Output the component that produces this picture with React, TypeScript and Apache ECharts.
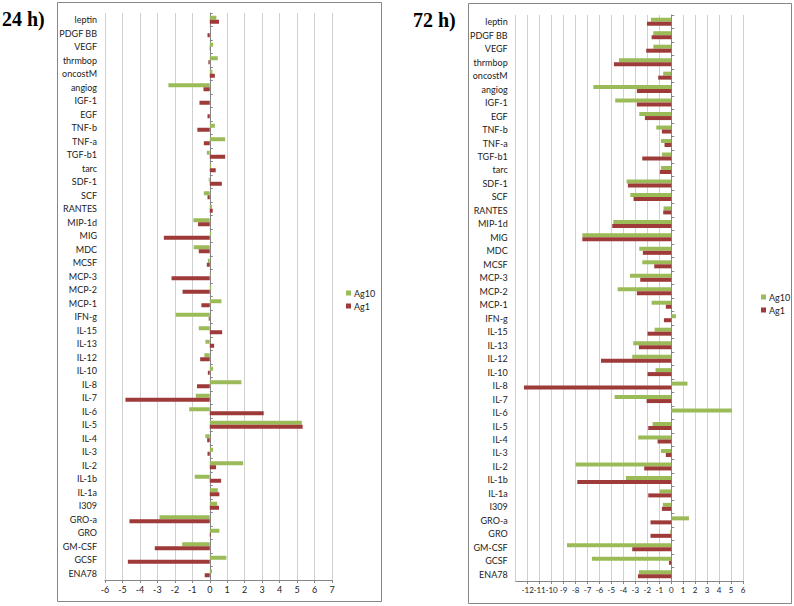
import React, { useEffect, useRef } from "react";
import * as echarts from "echarts";

// categories listed bottom -> top
const categories = [
  "ENA78", "GCSF", "GM-CSF", "GRO", "GRO-a", "I309", "IL-1a", "IL-1b", "IL-2", "IL-3",
  "IL-4", "IL-5", "IL-6", "IL-7", "IL-8", "IL-10", "IL-12", "IL-13", "IL-15", "IFN-g",
  "MCP-1", "MCP-2", "MCP-3", "MCSF", "MDC", "MIG", "MIP-1d", "RANTES", "SCF", "SDF-1",
  "tarc", "TGF-b1", "TNF-a", "TNF-b", "EGF", "IGF-1", "angiog", "oncostM", "thrmbop", "VEGF",
  "PDGF BB", "leptin",
];

const ag10_24h = [
  0.13, 0.95, -1.58, 0.55, -2.88, 0.42, 0.46, -0.86, 1.91, 0.19,
  -0.25, 5.27, -1.18, -0.8, 1.81, 0.19, -0.31, -0.25, -0.63, -1.95,
  0.67, 0.08, 0.03, -0.11, -0.92, 0.08, -0.94, 0.13, -0.34, -0.06,
  0.08, -0.17, 0.88, 0.29, 0.0, 0.0, -2.37, 0.15, 0.46, 0.19,
  0.0, 0.38,
];
const ag1_24h = [
  -0.29, -4.69, -3.15, 0.05, -4.6, 0.53, 0.55, 0.65, 0.36, -0.13,
  -0.15, 5.32, 3.09, -4.83, -0.73, -0.11, -0.55, 0.25, 0.71, -0.06,
  -0.48, -1.56, -2.19, -0.17, -0.63, -2.63, -0.67, 0.17, -0.13, 0.69,
  0.34, 0.88, -0.34, -0.71, -0.13, -0.59, -0.36, 0.29, -0.08, 0.02,
  -0.13, 0.53,
];
const ag10_72h = [
  -2.7, -6.63, -8.71, -0.08, 1.48, -0.7, -0.95, -3.79, -7.99, -0.86,
  -2.76, -1.56, 5.07, -4.73, 1.36, -1.31, -3.26, -3.17, -1.39, 0.39,
  -1.64, -4.48, -3.45, -2.42, -2.67, -7.43, -4.84, -0.64, -3.42, -3.73,
  -0.86, -0.78, -0.86, -1.25, -2.67, -4.68, -6.51, -0.67, -4.37, -1.5,
  -1.5, -1.7,
];
const ag1_72h = [
  -2.78, -0.19, -3.26, -1.73, -1.73, -0.78, -1.92, -7.85, -2.26, -0.45,
  -1.14, -1.92, 0.0, -2.06, -12.31, -1.98, -5.87, -2.7, -1.98, -0.61,
  -0.45, -2.87, -2.59, -1.42, -2.37, -7.43, -4.93, -0.67, -3.15, -3.62,
  -0.95, -2.42, -0.56, -0.78, -2.2, -2.87, -2.87, -1.09, -4.79, -2.09,
  -1.64, -2.03,
];

const seriesNames = ["Ag10", "Ag1"];
const panelTitles = ["24 h)", "72 h)"];
const xRange24 = { min: -6, max: 7 };
const xRange72 = { min: -13, max: 6 };

const GREEN = "#9BBB59";
const RED = "#9E3A38";
const FONT = "Lato, 'Open Sans', sans-serif";
const AXIS_GRAY = "#868686";

export default function App() {
  const ref = useRef<HTMLDivElement>(null);

  useEffect(() => {
    if (!ref.current) return;
    const chart = echarts.init(ref.current, null, { renderer: "svg" });

    const grids = [
      { left: 105, top: 13, width: 227, height: 567 },
      { left: 515.7, top: 15, width: 227.3, height: 566 },
    ];
    const ranges = [xRange24, xRange72];
    const xFont = [9, 8];

    const xAxes = ranges.map((r, i) => ({
      type: "value",
      gridIndex: i,
      min: r.min,
      max: r.max,
      interval: 1,
      axisLine: { show: true, onZero: false, lineStyle: { color: AXIS_GRAY, width: 1 } },
      axisTick: { show: true, length: 3, lineStyle: { color: AXIS_GRAY } },
      axisLabel: { fontSize: xFont[i], color: "#222", fontFamily: FONT, margin: 5 },
      splitLine: { show: true, lineStyle: { color: "#D0D0D0", width: 1 } },
    }));

    const yAxes: any[] = [];
    [0, 1].forEach((i) => {
      yAxes.push({
        type: "category",
        gridIndex: i,
        data: categories,
        axisLine: { show: false },
        axisTick: { show: false },
        axisLabel: { fontSize: 9, color: "#222", fontFamily: FONT, margin: 8, interval: 0 },
        splitLine: { show: false },
      });
    });
    [0, 1].forEach((i) => {
      yAxes.push({
        type: "category",
        gridIndex: i,
        data: categories,
        axisLine: { show: true, onZero: true, onZeroAxisIndex: i, lineStyle: { color: AXIS_GRAY, width: 1 } },
        axisTick: { show: true, length: 3, interval: 0, lineStyle: { color: AXIS_GRAY } },
        axisLabel: { show: false },
        splitLine: { show: false },
      });
    });

    const mkSeries = (name: string, data: number[], gi: number, color: string) => ({
      type: "bar",
      name,
      xAxisIndex: gi,
      yAxisIndex: gi,
      data,
      barWidth: 4,
      barGap: "0%",
      itemStyle: { color },
    });

    const legendBase = {
      data: seriesNames,
      orient: "vertical",
      icon: "rect",
      padding: 0,
      itemWidth: 5,
      itemHeight: 5,
      itemGap: 4,
      textStyle: { fontSize: 9, color: "#222", fontFamily: FONT, padding: [0, 0, 0, -2] },
    };

    const option: any = {
      animation: false,
      backgroundColor: "#ffffff",
      textStyle: { fontFamily: FONT },
      grid: grids,
      xAxis: xAxes,
      yAxis: yAxes,
      legend: [
        { ...legendBase, left: 346, top: 288.5 },
        { ...legendBase, left: 761, top: 292.5 },
      ],
      series: [
        mkSeries(seriesNames[0], ag10_24h, 0, GREEN),
        mkSeries(seriesNames[1], ag1_24h, 0, RED),
        mkSeries(seriesNames[0], ag10_72h, 1, GREEN),
        mkSeries(seriesNames[1], ag1_72h, 1, RED),
      ],
      graphic: [
        {
          type: "rect",
          shape: { x: 57.5, y: 2.5, width: 324, height: 599 },
          style: { fill: "none", stroke: AXIS_GRAY, lineWidth: 1 },
          silent: true,
        },
        {
          type: "rect",
          shape: { x: 468.5, y: 3.5, width: 323, height: 600 },
          style: { fill: "none", stroke: AXIS_GRAY, lineWidth: 1 },
          silent: true,
        },
        {
          type: "text",
          left: 2,
          top: 9,
          style: {
            text: panelTitles[0],
            font: "bold 20px 'Liberation Serif', 'Times New Roman', serif",
            fill: "#000",
          },
        },
        {
          type: "text",
          left: 413,
          top: 10,
          style: {
            text: panelTitles[1],
            font: "bold 20px 'Liberation Serif', 'Times New Roman', serif",
            fill: "#000",
          },
        },
      ],
    };

    chart.setOption(option);
    return () => chart.dispose();
  }, []);

  return (
    <div
      ref={ref}
      style={{ position: "absolute", left: 0, top: 0, width: 794, height: 606, background: "#fff" }}
    />
  );
}
